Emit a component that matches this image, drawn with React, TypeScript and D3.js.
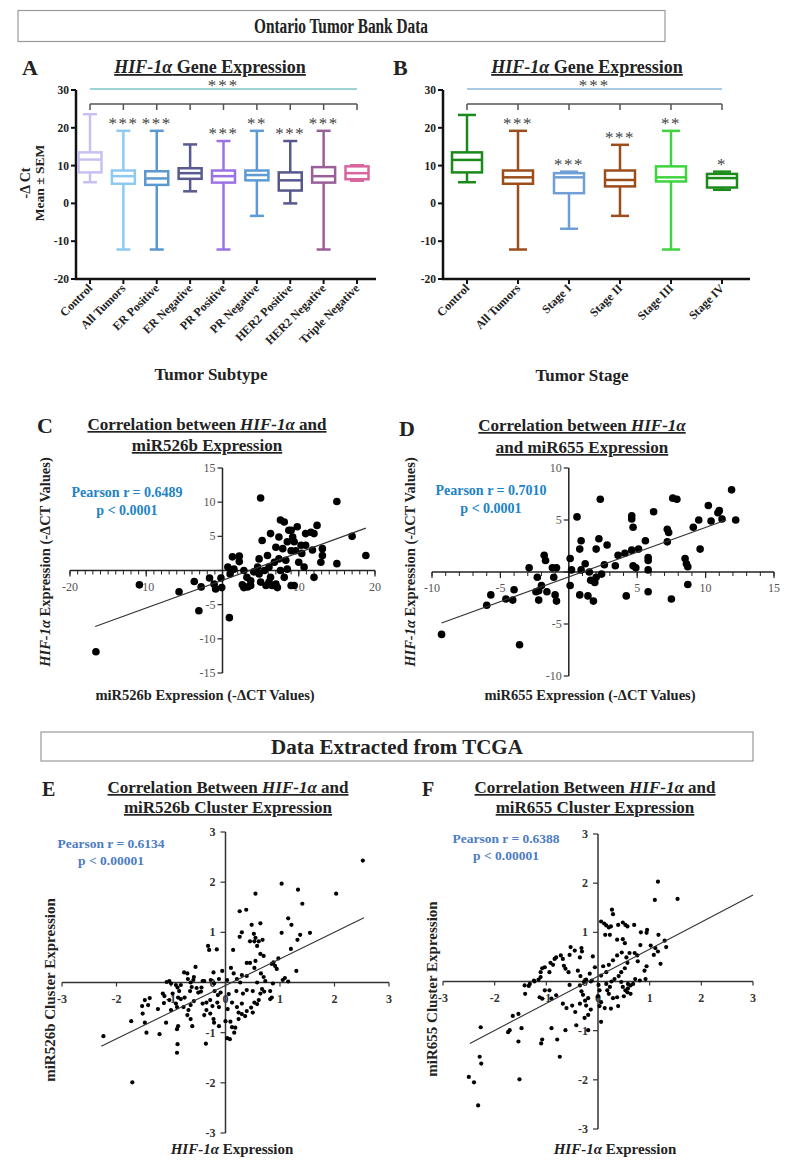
import React from "react";
import * as d3 from "d3";

const SERIF = "'Liberation Serif', 'Times New Roman', serif";
const INK = "#222";

// ---- Panel A: HIF-1a by tumor subtype (box plots) ----
const subtypeCats = ["Control", "All Tumors", "ER Positive", "ER Negative", "PR Positive", "PR Negative", "HER2 Positive", "HER2 Negative", "Triple Negative"];
const subtypeMin = [5.6, -12.2, -12.2, 3.2, -12.2, -3.3, 0, -12.2, 6.0];
const subtypeQ1 = [8.2, 5.2, 4.9, 6.5, 5.5, 6.1, 3.4, 5.5, 6.4];
const subtypeMed = [11.6, 7.2, 6.6, 8.0, 7.2, 7.5, 6.1, 7.2, 8.0];
const subtypeQ3 = [13.5, 8.7, 8.5, 9.3, 8.7, 8.7, 8.2, 9.6, 9.8];
const subtypeMax = [23.6, 19.2, 19.2, 15.6, 16.5, 19.2, 16.5, 19.2, 10.1];
const subtypeStars = ["", "***", "***", "", "***", "**", "***", "***", ""];
const subtypeColors = ["#c6c1f1", "#8ecaf0", "#5b98cf", "#585a90", "#9a72e6", "#5c9bd6", "#57588d", "#9a5f98", "#d8659e"];

// ---- Panel B: HIF-1a by tumor stage ----
const stageCats = ["Control", "All Tumors", "Stage I", "Stage II", "Stage III", "Stage IV"];
const stageMin = [5.6, -12.2, -6.7, -3.3, -12.2, 3.6];
const stageQ1 = [8.2, 5.2, 2.7, 4.5, 5.8, 4.2];
const stageMed = [11.5, 6.9, 6.9, 6.2, 6.9, 6.7];
const stageQ3 = [13.5, 8.7, 8.0, 8.7, 9.8, 7.8];
const stageMax = [23.4, 19.2, 8.4, 15.5, 19.2, 8.4];
const stageStars = ["", "***", "***", "***", "**", "*"];
const stageColors = ["#1b8a1b", "#9b4e1c", "#6f9fd6", "#9b4e1c", "#3fd43f", "#1b8a1b"];

const boxTicks = [-20, -10, 0, 10, 20, 30];

// ---- Panel C: miR526b vs HIF-1a (Ontario) ----
const otbMir526b: [number, number][] = [
  [5.0, 10.6], [15, 10.1], [-16.6, -11.9], [-10.9, -2.1], [-5.7, -3.1], [-3.1, -5.9], [0.9, -6.9],
  [-3.7, -1.6], [-2.8, -2.4], [-1.7, -1.1], [-1.1, -2.0], [-0.9, -2.7], [-0.1, -2.5], [-0.2, -1.1],
  [0.7, 0.5], [1.0, -0.5], [1.3, 2.0], [2.2, 2.1], [1.5, 0.2], [2.2, 1.3], [2.8, 0], [3.2, -1.0],
  [2.6, -2.1], [3.3, -2.4], [3.7, -2.2], [2.8, -2.5], [4.8, 1.7], [5.2, 4.4], [6.3, 5.4], [4.8, -0.5],
  [5.0, -1.7], [5.5, 0], [5.9, 2.2], [6.1, 0.5], [6.3, -1.0], [7.0, -2.0], [7.2, -2.5], [7.0, 3.4],
  [7.4, 1.7], [7.6, 7.4], [8.1, 7.1], [7.9, 3.2], [8.3, 1.5], [7.6, 0], [8.5, 0.2], [8.1, -1.0],
  [8.7, 5.9], [9.2, 4.9], [9.4, 4.2], [9.0, 2.9], [9.6, 2.9], [9.8, 6.4], [10.3, 3.7], [10.0, 1.2],
  [9.4, -2.2], [9.0, -2.2], [10.7, 0.5], [10.9, 5.4], [11.6, 5.6], [12.0, 5.4], [12.4, 6.6], [11.8, 3.0],
  [12.0, -1.0], [13.1, 3.2], [13.1, 2.2], [12.9, 1.2], [15.0, 1.0], [17.0, 5.0], [18.8, 2.2],
  [6.1, -1.7], [5.7, -2.2], [6.5, -2.2], [3.7, -1.5], [4.1, -0.2], [4.6, 0.5], [7.4, 4.9], [8.5, 4.2],
  [6.8, 1.2], [10.4, 2.5], [10.9, 3.7], [9.0, 5.9],
];
const otbMir526bFit: [number, number][] = [[-16.7, -8.2], [18.8, 6.2]];

// ---- Panel D: miR655 vs HIF-1a (Ontario) ----
const otbMir655: [number, number][] = [
  [-9.3, -6.0], [-3.6, -7.0], [-6.0, -3.2], [-5.7, -2.2], [-4.6, -2.6], [-4.1, -2.7], [-4.0, -1.7],
  [-2.9, 0.4], [-2.3, -0.5], [-2.2, -1.8], [-2.2, -2.7], [-2.0, -1.3], [-1.8, 1.6], [-1.7, 1.1],
  [-1.6, -1.9], [-1.2, 0.4], [-1.1, -0.5], [-1.0, -2.2], [-0.9, -2.8], [-0.9, 0.4], [0.1, 1.3],
  [0.2, 0.2], [0.1, -1.3], [0.6, 5.3], [0.9, 3.0], [0.8, 2.2], [0.8, -2.2], [0.9, 0.2], [1.2, 0.8],
  [1.4, -2.3], [1.5, 0], [1.6, -0.8], [1.8, -2.8], [2.0, 2.2], [1.9, -1.0], [2.0, -0.5], [2.3, 7.0],
  [2.2, 3.2], [2.4, -0.2], [2.6, 0.7], [2.8, 2.6], [3.4, 0.6], [3.6, 1.6], [4.1, 1.8], [4.6, 2.1],
  [4.2, -2.3], [4.6, 5.4], [4.6, 5.1], [4.7, 4.3], [4.7, 0.6], [4.9, 0.4], [5.1, 2.2], [5.6, 3.0],
  [5.8, 1.4], [5.8, 1.1], [5.8, 0.2], [5.8, -1.9], [6.2, 5.8], [7.2, 2.9], [7.2, 4.1], [7.3, 3.8],
  [7.6, 7.1], [7.9, 7.0], [7.5, -2.6], [8.5, 1.3], [8.6, 0.8], [8.7, 0.5], [8.7, -1.2], [9.1, 4.3],
  [9.5, 5.0], [9.6, 2.2], [10.2, 6.4], [10.4, 4.9], [10.9, 5.7], [11.0, 5.9], [11.2, 5.1], [11.9, 7.9],
  [12.2, 5.0], [-2.4, -1.9],
];
const otbMir655Fit: [number, number][] = [[-9.3, -4.9], [11.5, 5.0]];

// ---- Panel E: TCGA miR526b cluster vs HIF-1a ----
const tcgaMir526b: [number, number][] = [
  [2.52, 2.43], [1.03, 1.97], [1.33, 1.85], [2.03, 1.77], [0.55, 1.77], [1.41, 1.57], [0.26, 1.42],
  [0.38, 1.45], [1.15, 1.28], [1.21, 1.15], [0.48, 1.15], [0.64, 1.18], [1.03, 0.99], [1.55, 0.99],
  [1.37, 0.95], [0.30, 1.0], [0.26, 0.91], [0.52, 0.97], [0.55, 0.89], [0.45, 0.82], [0.53, 0.82],
  [0.61, 0.82], [0.68, 0.85], [1.32, 0.85], [0.58, 0.73], [-0.32, 0.73], [-0.30, 0.65], [-0.16, 0.66],
  [0.14, 0.65], [1.2, 0.67], [0.64, 0.57], [0.70, 0.53], [0.97, 0.48], [0.88, 0.40], [0.39, 0.39],
  [0.45, 0.39], [0.85, 0.37], [0.91, 0.33], [0.94, 0.27], [0.55, 0.43], [-0.55, 0.31], [0.53, 0.29],
  [1.30, 0.23], [-0.76, 0.2], [-0.70, 0.18], [-0.22, 0.2], [-0.06, 0.23], [0.10, 0.29], [0.15, 0.18],
  [0.30, 0.15], [0.39, 0.13], [0.65, 0.18], [0.70, 0.11], [-0.58, 0.11], [-0.59, 0.05], [-0.69, 0.07],
  [-1.08, 0.01], [-1.0, -0.02], [-1.03, 0.03], [-0.91, -0.05], [-0.88, -0.1], [-0.85, -0.17],
  [-0.39, 0.03], [-0.27, 0.05], [-0.12, 0.07], [0.03, 0.05], [0.21, 0.07], [0.27, 0], [1.09, 0.09],
  [1.15, 0.02], [1.05, 0.05], [0.87, -0.02], [0.73, 0.03], [0.58, 0], [-0.62, -0.09], [-0.53, -0.11],
  [-0.44, -0.1], [-0.65, -0.17], [-0.50, -0.2], [-0.45, -0.18], [-1.15, -0.22], [-1.12, -0.27],
  [-0.97, -0.22], [-0.87, -0.3], [-0.82, -0.33], [-0.75, -0.3], [-0.2, -0.17], [-0.14, -0.25],
  [-0.09, -0.2], [0.06, -0.23], [0.2, -0.17], [0.32, -0.22], [0.39, -0.15], [0.5, -0.17], [0.67, -0.13],
  [0.71, -0.18], [0.82, -0.17], [0.85, -0.3], [0.64, -0.22], [-1.39, -0.31], [-1.48, -0.35],
  [-1.42, -0.45], [-1.53, -0.47], [-1.52, -0.62], [-1.24, -0.53], [-1.13, -0.41], [-1.03, -0.35],
  [-1.0, -0.55], [-0.91, -0.42], [-0.89, -0.49], [-0.77, -0.49], [-0.68, -0.55], [-0.64, -0.45],
  [-0.58, -0.37], [-0.7, -0.65], [-0.64, -0.73], [-0.61, -0.87], [-0.42, -0.42], [-0.35, -0.4],
  [-0.28, -0.35], [-0.24, -0.47], [-0.15, -0.4], [-0.12, -0.49], [-0.35, -0.55], [-0.28, -0.62],
  [-0.39, -0.65], [-0.22, -0.73], [-0.21, -0.8], [-0.12, -0.87], [0, -0.77], [0.09, -0.78],
  [0.12, -0.89], [0.16, -1.0], [0.18, -0.9], [0.03, -1.11], [0.08, -1.13], [0.04, -0.53], [0.12, -0.4],
  [0.21, -0.49], [0.24, -0.6], [0.24, -0.73], [0.3, -0.63], [0.36, -0.67], [0.39, -0.57], [0.47, -0.5],
  [0.5, -0.6], [0.53, -0.4], [0.58, -0.43], [0.61, -0.35], [0.30, -0.42], [0.82, -0.33], [-1.73, -0.77],
  [-1.48, -0.8], [-1.45, -1.0], [-1.21, -1.03], [-1.09, -0.8], [-0.89, -0.93], [-0.87, -0.87],
  [-0.88, -1.23], [-0.89, -1.4], [-0.36, -1.22], [-2.24, -1.07], [-0.42, 0.03], [-0.64, 0],
  [-0.82, -0.05], [-0.21, -0.02], [-1.71, -1.99],
];
const tcgaMir526bFit: [number, number][] = [[-2.28, -1.27], [2.54, 1.29]];

// ---- Panel F: TCGA miR655 cluster vs HIF-1a ----
const tcgaMir655: [number, number][] = [
  [1.16, 2.03], [1.10, 1.66], [1.54, 1.68], [0.27, 1.46], [0.29, 1.37], [0.06, 1.22], [0.12, 1.18],
  [0.16, 1.14], [0.21, 1.10], [0.25, 1.12], [0.39, 1.15], [0.48, 1.2], [0.53, 1.15], [0.57, 1.12],
  [0.70, 1.15], [0.14, 0.95], [0.23, 0.95], [0.37, 0.85], [0.48, 0.86], [0.52, 0.78], [0.83, 1.0],
  [0.95, 1.05], [0.94, 0.99], [1.17, 0.95], [1.29, 0.83], [0.82, 0.74], [1.02, 0.73], [1.11, 0.68],
  [1.16, 0.61], [1.08, 0.54], [1.21, 0.36], [1.32, 0.70], [-0.53, 0.70], [-0.32, 0.68], [-0.31, 0.61],
  [-0.45, 0.63], [-0.55, 0.54], [-0.72, 0.53], [-0.81, 0.49], [-0.84, 0.46], [-0.68, 0.46],
  [-0.35, 0.49], [-0.10, 0.51], [-0.87, 0.34], [-0.92, 0.38], [-1.03, 0.29], [-0.94, 0.19],
  [-0.66, 0.32], [-0.63, 0.26], [-0.57, 0.19], [-1.08, 0.27], [-1.11, 0.19], [-1.24, 0.02],
  [-1.32, -0.05], [-1.42, -0.08], [-1.41, -0.25], [-1.11, 0.09], [-1.15, 0.04], [-1.03, -0.18],
  [-0.94, -0.18], [-1.13, -0.32], [-1.08, -0.35], [-0.90, -0.35], [-0.81, -0.28], [-0.55, -0.07],
  [-0.39, 0.22], [-0.34, 0.11], [-0.23, 0.04], [-0.16, 0.16], [-0.06, 0.29], [-0.14, 0], [-0.27, -0.01],
  [-0.35, -0.08], [-0.32, -0.2], [-0.29, -0.27], [-0.25, -0.39], [-0.19, -0.34], [-0.23, -0.49],
  [-0.14, -0.57], [-0.19, -0.68], [-0.26, -0.74], [-0.44, -0.62], [-0.35, -0.45], [-0.50, -0.49],
  [-0.61, -0.54], [-0.68, -0.45], [-0.63, -0.99], [-0.42, -0.89], [-0.19, -0.99], [-0.12, 0.02],
  [0.01, -0.07], [0.03, -0.18], [0, -0.3], [0.06, -0.42], [0.03, -0.5], [0.06, -0.82], [0.13, -0.54],
  [0.25, -0.55], [0.39, -0.5], [0.29, -0.34], [0.37, -0.32], [0.18, -0.18], [0.21, -0.25],
  [0.23, -0.11], [0.16, -0.05], [0.26, 0], [0.32, 0.05], [0.40, 0.11], [0.45, 0.19], [0.52, 0.27],
  [0.57, 0.38], [0.55, 0.49], [0.61, 0.58], [0.71, 0.58], [0.76, 0.53], [0.77, 0.41], [0.46, 0.59],
  [0.37, 0.53], [0.29, 0.43], [0.21, 0.34], [0.10, 0.31], [0.16, 0.19], [0.06, 0.12], [0.45, -0.01],
  [0.48, -0.11], [0.53, -0.18], [0.58, -0.14], [0.63, -0.08], [0.68, -0.05], [0.72, 0.05],
  [0.58, -0.05], [0.57, -0.22], [0.50, -0.3], [0.63, -0.25], [0.90, 0.22], [0.94, 0.31], [0.92, 0.05],
  [0.81, 0.02], [-2.27, -0.93], [-2.29, -1.53], [-2.26, -1.67], [-2.5, -1.94], [-2.40, -2.05],
  [-1.52, -1.99], [-1.54, -0.66], [-1.48, -0.95], [-1.54, -1.22], [-1.65, -0.7], [-1.71, -0.99],
  [-1.74, -1.03], [-1.08, -1.18], [-1.10, -1.26], [-0.90, -0.95], [-0.79, -1.18], [-0.74, -1.53],
  [-1.34, -0.09], [-1.23, 0], [-2.32, -2.52],
];
const tcgaMir655Fit: [number, number][] = [[-2.48, -1.26], [3.0, 1.76]];

const Hif = () => <tspan fontStyle="italic">HIF-1α</tspan>;

interface BoxProps {
  cats: string[];
  mins: number[];
  q1s: number[];
  meds: number[];
  q3s: number[];
  maxs: number[];
  stars: string[];
  colors: string[];
  axisX: number;
  axisEnd: number;
  first: number;
  last: number;
  boxW: number;
  capW: number;
  sigColor: string;
}

const BoxPanel: React.FC<BoxProps> = (p) => {
  const y = d3.scaleLinear().domain([-20, 30]).range([279, 90]);
  const x = d3.scalePoint<string>().domain(p.cats).range([p.first, p.last]);
  const mid = (p.first + p.last) / 2;
  return (
    <g fontFamily={SERIF}>
      {/* significance line + bracket */}
      <line x1={p.first} x2={p.last} y1={89} y2={89} stroke={p.sigColor} strokeWidth={1.5} />
      <text x={mid} y={91} textAnchor="middle" fontSize={17} fill="#444" letterSpacing={2}>***</text>
      <line x1={p.first} x2={p.last} y1={104} y2={104} stroke="#555" strokeWidth={1.5} />
      {p.cats.map((c) => (
        <line key={c} x1={x(c)} x2={x(c)} y1={104} y2={110} stroke="#555" strokeWidth={1.5} />
      ))}
      {/* axes */}
      <path d={`M${p.axisX},${y(30)}V${y(-20)}H${p.axisEnd}`} fill="none" stroke="#111" strokeWidth={2.5} />
      {boxTicks.map((t) => (
        <g key={t}>
          <line x1={p.axisX - 5} x2={p.axisX} y1={y(t)} y2={y(t)} stroke="#111" strokeWidth={2} />
          <text x={p.axisX - 7} y={y(t) + 4} textAnchor="end" fontSize={11.5} fontWeight="bold" fill={INK}>{t}</text>
        </g>
      ))}
      {p.cats.map((c, i) => {
        const cx = x(c)!;
        const col = p.colors[i];
        return (
          <g key={c}>
            <line x1={cx} x2={cx} y1={y(-20)} y2={y(-20) + 5} stroke="#111" strokeWidth={2} />
            <text transform={`translate(${cx + 3},${y(-20) + 10}) rotate(-45)`} textAnchor="end" fontSize={12} fontWeight="bold" fill={INK}>{c}</text>
            <line x1={cx} x2={cx} y1={y(p.maxs[i])} y2={y(p.mins[i])} stroke={col} strokeWidth={2.5} />
            <line x1={cx - p.capW / 2} x2={cx + p.capW / 2} y1={y(p.maxs[i])} y2={y(p.maxs[i])} stroke={col} strokeWidth={2.5} />
            <line x1={cx - p.capW / 2} x2={cx + p.capW / 2} y1={y(p.mins[i])} y2={y(p.mins[i])} stroke={col} strokeWidth={2.5} />
            <rect x={cx - p.boxW / 2} y={y(p.q3s[i])} width={p.boxW} height={y(p.q1s[i]) - y(p.q3s[i])} fill="#fff" stroke={col} strokeWidth={2.5} />
            <line x1={cx - p.boxW / 2} x2={cx + p.boxW / 2} y1={y(p.meds[i])} y2={y(p.meds[i])} stroke={col} strokeWidth={2.5} />
            {p.stars[i] && (
              <text x={cx} y={y(p.maxs[i]) - 2} textAnchor="middle" fontSize={17} fill="#444" letterSpacing={1.5}>{p.stars[i]}</text>
            )}
          </g>
        );
      })}
    </g>
  );
};

interface ScatterProps {
  data: [number, number][];
  fit: [number, number][];
  xDomain: [number, number];
  yDomain: [number, number];
  xRange: [number, number];
  yRange: [number, number];
  xMajor: number;
  xMinor: number;
  yMajor: number;
  excel: boolean;
  r: number;
}

const ScatterPanel: React.FC<ScatterProps> = (p) => {
  const x = d3.scaleLinear().domain(p.xDomain).range(p.xRange);
  const y = d3.scaleLinear().domain(p.yDomain).range(p.yRange);
  const x0 = x(0);
  const y0 = y(0);
  const xMajors = d3.range(p.xDomain[0], p.xDomain[1] + 0.001, p.xMajor);
  const xMinors = d3.range(p.xDomain[0], p.xDomain[1] + 0.001, p.xMinor);
  const yMajors = d3.range(p.yDomain[0], p.yDomain[1] + 0.001, p.yMajor);
  const axisCol = p.excel ? "#333" : "#222";
  const line = d3.line<[number, number]>().x((d) => x(d[0])).y((d) => y(d[1]));
  const labelProps = p.excel
    ? { fontSize: 12, fontWeight: "bold" as const, fill: "#333" }
    : { fontSize: 12, fontWeight: "normal" as const, fill: "#555" };
  return (
    <g fontFamily={SERIF}>
      <line x1={p.xRange[0]} x2={p.xRange[1]} y1={y0} y2={y0} stroke={axisCol} strokeWidth={1.5} />
      <line x1={x0} x2={x0} y1={p.yRange[0]} y2={p.yRange[1]} stroke={axisCol} strokeWidth={1.5} />
      {!p.excel &&
        xMinors.map((t) => (
          <line key={"m" + t} x1={x(t)} x2={x(t)} y1={y0} y2={y0 + 4} stroke={axisCol} strokeWidth={1} />
        ))}
      {xMajors.map((t) => (
        <g key={"x" + t}>
          <line x1={x(t)} x2={x(t)} y1={y0} y2={y0 + (p.excel ? 4 : 6)} stroke={axisCol} strokeWidth={1.2} />
          {(p.excel || t !== 0) && (
            <text x={x(t)} y={y0 + 20} textAnchor="middle" {...labelProps}>{t}</text>
          )}
        </g>
      ))}
      {yMajors.map((t) => (
        <g key={"y" + t}>
          <line x1={x0 - 5} x2={x0} y1={y(t)} y2={y(t)} stroke={axisCol} strokeWidth={1.2} />
          {(p.excel || t !== 0) && (
            <text x={x0 - (p.excel ? 10 : 7)} y={y(t) + 4} textAnchor="end" {...labelProps}>{t}</text>
          )}
        </g>
      ))}
      {p.data.map((d, i) => (
        <circle key={i} cx={x(d[0])} cy={y(d[1])} r={p.r} fill="#000" />
      ))}
      <path d={line(p.fit) || ""} fill="none" stroke="#333" strokeWidth={1.1} />
    </g>
  );
};

const titleStyle = { textDecoration: "underline" };

export default function App() {
  return (
    <svg width={789} height={1160} viewBox="0 0 789 1160" style={{ display: "block", position: "absolute", left: 0, top: 0, background: "#fff" }} fontFamily={SERIF}>
      <rect x={0} y={0} width={789} height={1160} fill="#fff" />
      {/* header 1 */}
      <rect x={18} y={10.5} width={647} height={31} fill="none" stroke="#999" strokeWidth={1.2} />
      <text x={341} y={33} textAnchor="middle" fontSize={20} fontWeight="bold" fill={INK} textLength={174} lengthAdjust="spacingAndGlyphs">Ontario Tumor Bank Data</text>

      {/* panel A */}
      <text x={22} y={75} fontSize={22} fontWeight="bold" fill={INK}>A</text>
      <text x={210} y={73} textAnchor="middle" fontSize={18} fontWeight="bold" fill={INK} style={titleStyle}><Hif /> Gene Expression</text>
      <text transform="translate(30,183) rotate(-90)" textAnchor="middle" fontSize={14} fontWeight="bold" fill={INK}>-Δ Ct</text>
      <text transform="translate(44,183) rotate(-90)" textAnchor="middle" fontSize={13.5} fontWeight="bold" fill={INK}>Mean ± SEM</text>
      <BoxPanel cats={subtypeCats} mins={subtypeMin} q1s={subtypeQ1} meds={subtypeMed} q3s={subtypeQ3} maxs={subtypeMax}
        stars={subtypeStars} colors={subtypeColors} axisX={76} axisEnd={376} first={90} last={357} boxW={23} capW={14} sigColor="#7fc6c6" />
      <text x={211} y={380} textAnchor="middle" fontSize={17} fontWeight="bold" fill={INK}>Tumor Subtype</text>

      {/* panel B */}
      <text x={393} y={75} fontSize={22} fontWeight="bold" fill={INK}>B</text>
      <text x={587} y={73} textAnchor="middle" fontSize={18} fontWeight="bold" fill={INK} style={titleStyle}><Hif /> Gene Expression</text>
      <BoxPanel cats={stageCats} mins={stageMin} q1s={stageQ1} meds={stageMed} q3s={stageQ3} maxs={stageMax}
        stars={stageStars} colors={stageColors} axisX={443} axisEnd={750} first={467} last={722} boxW={30} capW={18} sigColor="#8fb8dc" />
      <text x={582} y={381} textAnchor="middle" fontSize={17} fontWeight="bold" fill={INK}>Tumor Stage</text>

      {/* panel C */}
      <text x={37} y={433} fontSize={22} fontWeight="bold" fill={INK}>C</text>
      <text x={207} y={430} textAnchor="middle" fontSize={17} fontWeight="bold" fill={INK} style={titleStyle}>Correlation between <Hif /> and</text>
      <text x={207} y={451} textAnchor="middle" fontSize={17} fontWeight="bold" fill={INK} style={titleStyle}>miR526b Expression</text>
      <text x={127} y={497} textAnchor="middle" fontSize={14} fontWeight="bold" fill="#2183c6">Pearson r = 0.6489</text>
      <text x={127} y={515} textAnchor="middle" fontSize={14} fontWeight="bold" fill="#2183c6">p &lt; 0.0001</text>
      <text transform="translate(50,562) rotate(-90)" textAnchor="middle" fontSize={14.5} fontWeight="bold" fill={INK}><Hif /> Expression (-ΔCT Values)</text>
      <ScatterPanel data={otbMir526b} fit={otbMir526bFit} xDomain={[-20, 20]} yDomain={[-15, 15]} xRange={[70, 375]} yRange={[673, 468]}
        xMajor={10} xMinor={1} yMajor={5} excel={false} r={3.8} />
      <text x={205} y={700} textAnchor="middle" fontSize={14.5} fontWeight="bold" fill={INK}>miR526b Expression (-ΔCT Values)</text>

      {/* panel D */}
      <text x={399} y={436} fontSize={22} fontWeight="bold" fill={INK}>D</text>
      <text x={582} y={431} textAnchor="middle" fontSize={17} fontWeight="bold" fill={INK} style={titleStyle}>Correlation between <Hif /></text>
      <text x={582} y={453} textAnchor="middle" fontSize={17} fontWeight="bold" fill={INK} style={titleStyle}>and miR655 Expression</text>
      <text x={491} y={495} textAnchor="middle" fontSize={14} fontWeight="bold" fill="#2183c6">Pearson r = 0.7010</text>
      <text x={491} y={513} textAnchor="middle" fontSize={14} fontWeight="bold" fill="#2183c6">p &lt; 0.0001</text>
      <text transform="translate(415,562) rotate(-90)" textAnchor="middle" fontSize={14.5} fontWeight="bold" fill={INK}><Hif /> Expression (-ΔCT Values)</text>
      <ScatterPanel data={otbMir655} fit={otbMir655Fit} xDomain={[-10, 15]} yDomain={[-10, 10]} xRange={[432, 774]} yRange={[676, 468]}
        xMajor={5} xMinor={1} yMajor={5} excel={false} r={3.8} />
      <text x={590} y={700} textAnchor="middle" fontSize={14.5} fontWeight="bold" fill={INK}>miR655 Expression (-ΔCT Values)</text>

      {/* header 2 */}
      <rect x={41} y={732} width={712} height={29} fill="none" stroke="#999" strokeWidth={1.2} />
      <text x={397} y={754} textAnchor="middle" fontSize={21} fontWeight="bold" fill={INK}>Data Extracted from TCGA</text>

      {/* panel E */}
      <text x={42} y={796} fontSize={20} fontWeight="bold" fill={INK}>E</text>
      <text x={228} y={793} textAnchor="middle" fontSize={17} fontWeight="bold" fill={INK} style={titleStyle}>Correlation Between <Hif /> and</text>
      <text x={228} y={813} textAnchor="middle" fontSize={17} fontWeight="bold" fill={INK} style={titleStyle}>miR526b Cluster Expression</text>
      <text x={111} y={848} textAnchor="middle" fontSize={13.5} fontWeight="bold" fill="#4d7cc4">Pearson r = 0.6134</text>
      <text x={111} y={865} textAnchor="middle" fontSize={13.5} fontWeight="bold" fill="#4d7cc4">p &lt; 0.00001</text>
      <text transform="translate(55,990) rotate(-90)" textAnchor="middle" fontSize={15} fontWeight="bold" fill={INK}>miR526b Cluster Expression</text>
      <ScatterPanel data={tcgaMir526b} fit={tcgaMir526bFit} xDomain={[-3, 3]} yDomain={[-3, 3]} xRange={[62, 389]} yRange={[1133, 832]}
        xMajor={1} xMinor={1} yMajor={1} excel={true} r={2.1} />
      <text x={232} y={1154} textAnchor="middle" fontSize={15} fontWeight="bold" fill={INK}><Hif /> Expression</text>

      {/* panel F */}
      <text x={422} y={796} fontSize={20} fontWeight="bold" fill={INK}>F</text>
      <text x={595} y={793} textAnchor="middle" fontSize={17} fontWeight="bold" fill={INK} style={titleStyle}>Correlation Between <Hif /> and</text>
      <text x={595} y={813} textAnchor="middle" fontSize={17} fontWeight="bold" fill={INK} style={titleStyle}>miR655 Cluster Expression</text>
      <text x={506} y={843} textAnchor="middle" fontSize={13.5} fontWeight="bold" fill="#4d7cc4">Pearson r = 0.6388</text>
      <text x={506} y={860} textAnchor="middle" fontSize={13.5} fontWeight="bold" fill="#4d7cc4">p &lt; 0.00001</text>
      <text transform="translate(437,989) rotate(-90)" textAnchor="middle" fontSize={15} fontWeight="bold" fill={INK}>miR655 Cluster Expression</text>
      <ScatterPanel data={tcgaMir655} fit={tcgaMir655Fit} xDomain={[-3, 3]} yDomain={[-3, 3]} xRange={[443, 753]} yRange={[1129, 834]}
        xMajor={1} xMinor={1} yMajor={1} excel={true} r={2.1} />
      <text x={615} y={1154} textAnchor="middle" fontSize={15} fontWeight="bold" fill={INK}><Hif /> Expression</text>
    </svg>
  );
}
